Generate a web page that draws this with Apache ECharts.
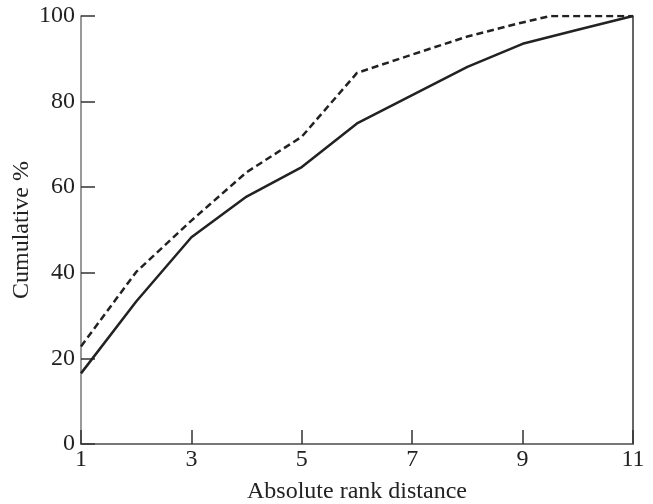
<!DOCTYPE html>
<html>
<head>
<meta charset="utf-8">
<script src="https://cdn.jsdelivr.net/npm/echarts@6/dist/echarts.min.js"></script>
<style>
html,body{margin:0;padding:0;background:#fff;}
#chart{width:653px;height:504px;}
</style>
</head>
<body>
<div id="chart"></div>
<script>
const xTitle = 'Absolute rank distance';
const yTitle = 'Cumulative %';
const solidX = [1, 2, 3, 4, 5, 6, 7, 8, 9, 10, 11];
const solidY = [16.5, 33.3, 48.3, 57.8, 64.7, 74.9, 81.5, 88.1, 93.5, 96.8, 100];
const dashedX = [1, 2, 3, 4, 5, 6, 7, 8, 9, 9.5, 11];
const dashedY = [22.8, 40.2, 52.2, 63.5, 71.8, 86.7, 91, 95.2, 98.5, 100, 100];

const font = 'Liberation Serif';
const chart = echarts.init(document.getElementById('chart'), null, {renderer: 'canvas'});
const pairs = (xs, ys) => xs.map((x, i) => [x, ys[i]]);

chart.setOption({
  animation: false,
  backgroundColor: '#fff',
  grid: {left: 81, right: 20, top: 16, bottom: 60, containLabel: false, outerBoundsMode: 'none'},
  xAxis: [{
    type: 'value', min: 1, max: 11, interval: 2,
    name: xTitle, nameLocation: 'middle', nameGap: 36, nameMoveOverlap: false,
    nameTextStyle: {fontFamily: font, fontSize: 24, color: '#222'},
    axisLine: {show: true, onZero: false, lineStyle: {color: '#555', width: 1.5}},
    axisTick: {show: true, inside: true, length: 14, lineStyle: {color: '#333', width: 1.5}},
    axisLabel: {fontFamily: font, fontSize: 24, color: '#222', margin: 4},
    splitLine: {show: false}
  }, {
    type: 'value', min: 1, max: 11, position: 'top',
    axisLine: {show: true, lineStyle: {color: '#777', width: 1.5}},
    axisTick: {show: false}, axisLabel: {show: false}, splitLine: {show: false}
  }],
  yAxis: [{
    type: 'value', min: 0, max: 100, interval: 20,
    name: yTitle, nameLocation: 'middle', nameGap: 47, nameRotate: 90, nameMoveOverlap: false,
    nameTextStyle: {fontFamily: font, fontSize: 24, color: '#222'},
    axisLine: {show: true, onZero: false, lineStyle: {color: '#777', width: 1.5}},
    axisTick: {show: true, inside: true, length: 14, lineStyle: {color: '#333', width: 1.5}},
    axisLabel: {fontFamily: font, fontSize: 24, color: '#222', margin: 6},
    splitLine: {show: false}
  }, {
    type: 'value', min: 0, max: 100, position: 'right',
    axisLine: {show: true, lineStyle: {color: '#333', width: 1.5}},
    axisTick: {show: false}, axisLabel: {show: false}, splitLine: {show: false}
  }],
  series: [{
    type: 'line', data: pairs(solidX, solidY), showSymbol: false, symbol: 'none',
    lineStyle: {color: '#222', width: 2.5, type: 'solid'}
  }, {
    type: 'line', data: pairs(dashedX, dashedY), showSymbol: false, symbol: 'none',
    lineStyle: {color: '#222', width: 2.5, type: [7, 4]}
  }]
});
</script>
</body>
</html>
